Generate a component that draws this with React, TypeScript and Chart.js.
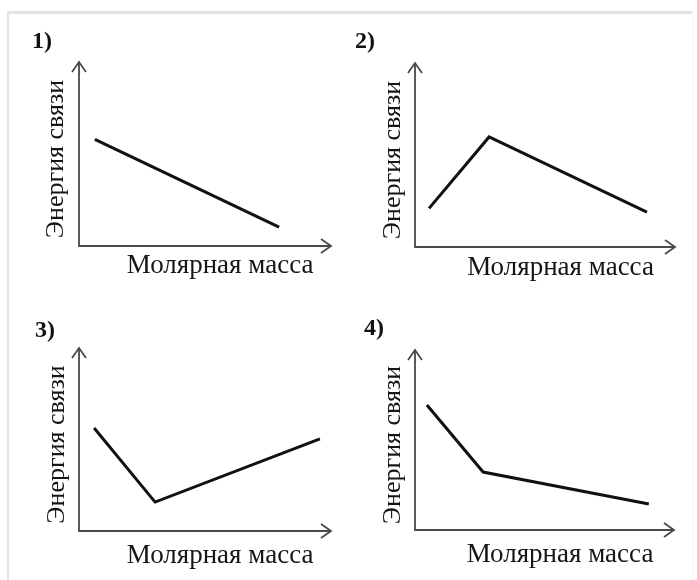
import React, { useEffect, useRef } from "react";
import { Chart, registerables } from "chart.js";

Chart.register(...registerables);

// ---- content ----
const PANEL_LABELS = ["1)", "2)", "3)", "4)"];
const X_TITLE = "Молярная масса";
const Y_TITLE = "Энергия связи";

// values on axes where 0 = origin, 10 = arrow tip
const panel1X = [0.63, 7.94];
const panel1Y = [5.8, 1.03];
const panel2X = [0.54, 2.85, 8.92];
const panel2Y = [2.1, 5.98, 1.9];
const panel3X = [0.6, 3.02, 9.56];
const panel3Y = [5.63, 1.58, 5.03];
const panel4X = [0.46, 2.63, 9.03];
const panel4Y = [6.94, 3.22, 1.44];

const SERIES_X = [panel1X, panel2X, panel3X, panel4X];
const SERIES_Y = [panel1Y, panel2Y, panel3Y, panel4Y];

const AXIS_END = 10;
const X_MAX = 11.2;

// ---- layout (page pixels) ----
const LAYOUTS = [
  { labelX: 32, labelCY: 42, ox: 79, oy: 246, xTip: 331, yTip: 62, xTitleCY: 266, yTitleCX: 56 },
  { labelX: 355, labelCY: 42, ox: 415, oy: 247, xTip: 675, yTip: 63, xTitleCY: 268, yTitleCX: 393 },
  { labelX: 35, labelCY: 331, ox: 79, oy: 531, xTip: 331, yTip: 348, xTitleCY: 556, yTitleCX: 57 },
  { labelX: 364, labelCY: 329, ox: 415, oy: 530, xTip: 674, yTip: 350, xTitleCY: 555, yTitleCX: 393 },
];

const FONT_FAMILY = "'Liberation Serif', 'Times New Roman', serif";
const X_FONT = 27;
const Y_FONT = 26;
const LABEL_FONT = 24;
const HX = 40;
const TOP_GAP = 30;
const Y_EXT = 10; // px of plot area kept below the x axis line

const arrowAxes = {
  id: "arrowAxes",
  beforeDatasetsDraw(chart: any) {
    const { ctx, chartArea, scales } = chart;
    const x0 = chartArea.left;
    const y0 = scales.y.getPixelForValue(0);
    const xEnd = scales.x.getPixelForValue(AXIS_END);
    const yEnd = scales.y.getPixelForValue(AXIS_END);
    ctx.save();
    ctx.strokeStyle = "#4a4a4a";
    ctx.lineWidth = 1.8;
    ctx.lineJoin = "miter";
    ctx.beginPath();
    ctx.moveTo(x0, yEnd);
    ctx.lineTo(x0, y0);
    ctx.lineTo(xEnd, y0);
    ctx.stroke();
    const L = 10;
    const W = 7;
    ctx.beginPath();
    ctx.moveTo(x0 - W, yEnd + L);
    ctx.lineTo(x0, yEnd);
    ctx.lineTo(x0 + W, yEnd + L);
    ctx.moveTo(xEnd - L, y0 - W);
    ctx.lineTo(xEnd, y0);
    ctx.lineTo(xEnd - L, y0 + W);
    ctx.stroke();
    ctx.restore();
  },
};

function Panel({ idx }: { idx: number }) {
  const ref = useRef<HTMLCanvasElement | null>(null);
  const lay = LAYOUTS[idx];
  const labelLH = LABEL_FONT * 1.2;
  const xLH = X_FONT * 1.2;
  const yLH = Y_FONT * 1.2;
  const canvasLeft = lay.labelX;
  const canvasTop = lay.labelCY - TOP_GAP;
  const wy = lay.ox - lay.labelX;
  const areaW = ((lay.xTip - lay.ox) * X_MAX) / AXIS_END;
  const width = Math.ceil(wy + areaW);
  const padR = width - wy - areaW;
  const areaBottom = lay.oy + Y_EXT;
  const yMin = (-AXIS_END * Y_EXT) / (lay.oy - lay.yTip);
  const height = areaBottom - canvasTop + HX;
  const titlePadTop = TOP_GAP - labelLH / 2;
  const titlePadBottom = lay.yTip - canvasTop - titlePadTop - labelLH;
  const yTitlePadTop = lay.yTitleCX - lay.labelX - yLH / 2;
  const xTitlePadBottom = HX - (lay.xTitleCY - areaBottom) - xLH / 2;

  useEffect(() => {
    if (!ref.current) return;
    const xs = SERIES_X[idx];
    const ys = SERIES_Y[idx];
    const chart = new Chart(ref.current, {
      type: "line",
      data: {
        datasets: [
          {
            data: xs.map((x, i) => ({ x, y: ys[i] })),
            borderColor: "#111",
            borderWidth: 3,
            pointRadius: 0,
            tension: 0,
            borderJoinStyle: "miter",
            fill: false,
          },
        ],
      },
      options: {
        animation: false,
        responsive: false,
        devicePixelRatio: 1,
        events: [],
        layout: { padding: { left: 0, top: 0, right: padR, bottom: 0 } },
        plugins: {
          legend: { display: false },
          tooltip: { enabled: false },
          title: {
            display: true,
            text: PANEL_LABELS[idx],
            align: "start",
            color: "#111",
            font: { family: FONT_FAMILY, size: LABEL_FONT, weight: "bold", lineHeight: 1.2 },
            padding: { top: titlePadTop, bottom: titlePadBottom },
          },
        },
        scales: {
          x: {
            type: "linear",
            min: 0,
            max: X_MAX,
            grid: { display: false },
            border: { display: false },
            ticks: { display: false },
            title: {
              display: true,
              text: X_TITLE,
              color: "#151515",
              font: { family: FONT_FAMILY, size: X_FONT, lineHeight: 1.2 },
              padding: { top: 0, bottom: xTitlePadBottom },
            },
            afterFit: (s: any) => {
              s.height = HX;
            },
          },
          y: {
            type: "linear",
            min: yMin,
            max: AXIS_END,
            grid: { display: false },
            border: { display: false },
            ticks: { display: false },
            title: {
              display: true,
              text: Y_TITLE,
              color: "#151515",
              font: { family: FONT_FAMILY, size: Y_FONT, lineHeight: 1.2 },
              padding: { top: yTitlePadTop, bottom: 0 },
            },
            afterFit: (s: any) => {
              s.width = wy;
            },
          },
        },
      } as any,
      plugins: [arrowAxes],
    });
    return () => chart.destroy();
  }, [idx]);

  return (
    <canvas
      ref={ref}
      width={width}
      height={height}
      style={{ position: "absolute", left: canvasLeft, top: canvasTop, width, height }}
    />
  );
}

export default function App() {
  return (
    <div
      style={{
        position: "fixed",
        left: 0,
        top: 0,
        width: 697,
        height: 580,
        overflow: "hidden",
        background: "#fff",
      }}
    >
      <div
        style={{
          position: "absolute",
          left: 7,
          top: 11,
          width: 686,
          height: 569,
          boxSizing: "border-box",
          borderTop: "3px solid #e3e3e3",
          borderLeft: "2px solid #e3e3e3",
          borderRight: "1px solid #f2f2f2",
        }}
      />
      {[0, 1, 2, 3].map((i) => (
        <Panel key={i} idx={i} />
      ))}
    </div>
  );
}
